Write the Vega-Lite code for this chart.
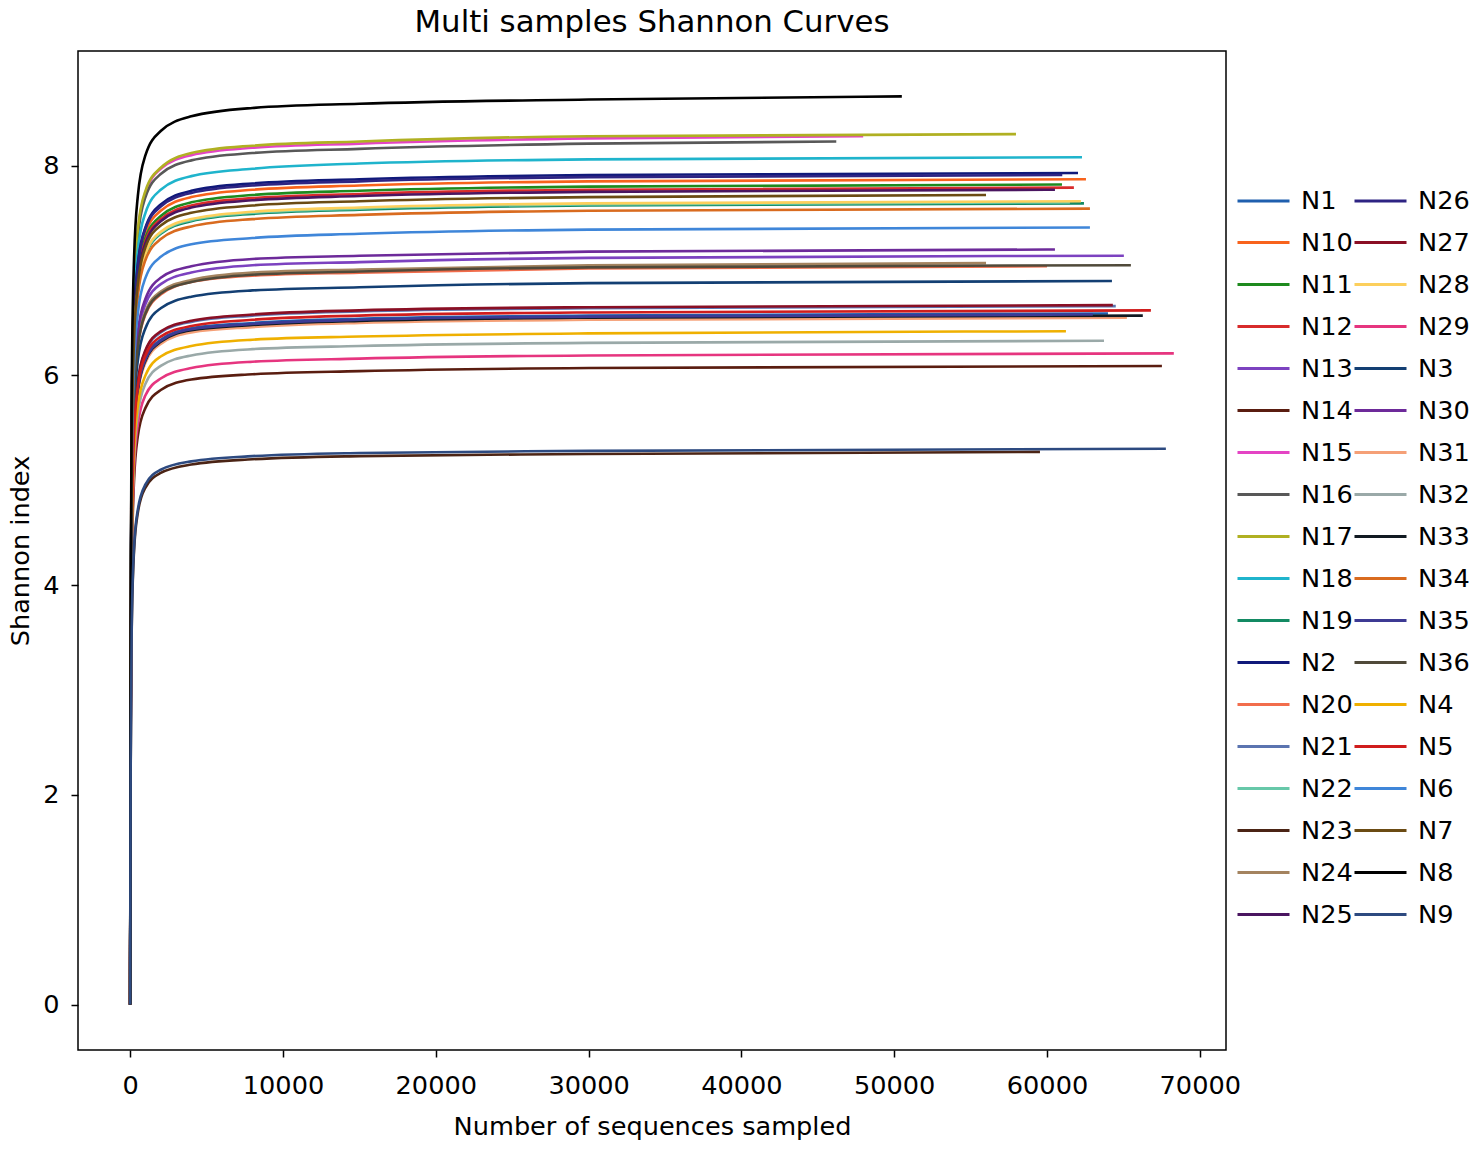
{
  "$schema": "https://vega.github.io/schema/vega-lite/v6.json",
  "title": {"text": "Multi samples Shannon Curves", "fontSize": 30.8, "fontWeight": "normal", "font": "DejaVu Sans", "color": "black", "offset": 12, "anchor": "middle"},
  "width": 1148,
  "height": 999,
  "autosize": {"type": "none"},
  "padding": {"left": 78, "top": 51, "right": 251, "bottom": 101},
  "background": "white",
  "data": {"values": [
    {"s":"N1","x":0,"y":0},{"s":"N1","x":30,"y":2.77},{"s":"N1","x":100,"y":4.48},{"s":"N1","x":250,"y":5.40},{"s":"N1","x":500,"y":5.87},{"s":"N1","x":1000,"y":6.16},{"s":"N1","x":2000,"y":6.34},{"s":"N1","x":4000,"y":6.45},{"s":"N1","x":8000,"y":6.50},{"s":"N1","x":15000,"y":6.54},{"s":"N1","x":30000,"y":6.57},{"s":"N1","x":63990,"y":6.59},
    {"s":"N10","x":0,"y":0},{"s":"N10","x":30,"y":3.31},{"s":"N10","x":100,"y":5.35},{"s":"N10","x":250,"y":6.45},{"s":"N10","x":500,"y":7.00},{"s":"N10","x":1000,"y":7.36},{"s":"N10","x":2000,"y":7.57},{"s":"N10","x":4000,"y":7.70},{"s":"N10","x":8000,"y":7.77},{"s":"N10","x":15000,"y":7.81},{"s":"N10","x":30000,"y":7.85},{"s":"N10","x":62550,"y":7.87},
    {"s":"N11","x":0,"y":0},{"s":"N11","x":30,"y":3.28},{"s":"N11","x":100,"y":5.32},{"s":"N11","x":250,"y":6.41},{"s":"N11","x":500,"y":6.96},{"s":"N11","x":1000,"y":7.31},{"s":"N11","x":2000,"y":7.52},{"s":"N11","x":4000,"y":7.65},{"s":"N11","x":8000,"y":7.72},{"s":"N11","x":15000,"y":7.76},{"s":"N11","x":30000,"y":7.80},{"s":"N11","x":60980,"y":7.82},
    {"s":"N12","x":0,"y":0},{"s":"N12","x":30,"y":3.27},{"s":"N12","x":100,"y":5.30},{"s":"N12","x":250,"y":6.39},{"s":"N12","x":500,"y":6.93},{"s":"N12","x":1000,"y":7.28},{"s":"N12","x":2000,"y":7.49},{"s":"N12","x":4000,"y":7.62},{"s":"N12","x":8000,"y":7.69},{"s":"N12","x":15000,"y":7.73},{"s":"N12","x":30000,"y":7.77},{"s":"N12","x":61760,"y":7.79},
    {"s":"N13","x":0,"y":0},{"s":"N13","x":30,"y":3.00},{"s":"N13","x":100,"y":4.86},{"s":"N13","x":250,"y":5.85},{"s":"N13","x":500,"y":6.35},{"s":"N13","x":1000,"y":6.68},{"s":"N13","x":2000,"y":6.87},{"s":"N13","x":4000,"y":6.98},{"s":"N13","x":8000,"y":7.05},{"s":"N13","x":15000,"y":7.08},{"s":"N13","x":30000,"y":7.12},{"s":"N13","x":65030,"y":7.14},
    {"s":"N14","x":0,"y":0},{"s":"N14","x":30,"y":2.56},{"s":"N14","x":100,"y":4.14},{"s":"N14","x":250,"y":4.99},{"s":"N14","x":500,"y":5.42},{"s":"N14","x":1000,"y":5.69},{"s":"N14","x":2000,"y":5.86},{"s":"N14","x":4000,"y":5.96},{"s":"N14","x":8000,"y":6.01},{"s":"N14","x":15000,"y":6.04},{"s":"N14","x":30000,"y":6.07},{"s":"N14","x":67520,"y":6.09},
    {"s":"N15","x":0,"y":0},{"s":"N15","x":30,"y":3.48},{"s":"N15","x":100,"y":5.63},{"s":"N15","x":250,"y":6.79},{"s":"N15","x":500,"y":7.37},{"s":"N15","x":1000,"y":7.74},{"s":"N15","x":2000,"y":7.97},{"s":"N15","x":4000,"y":8.10},{"s":"N15","x":8000,"y":8.17},{"s":"N15","x":15000,"y":8.21},{"s":"N15","x":30000,"y":8.26},{"s":"N15","x":47970,"y":8.28},
    {"s":"N16","x":0,"y":0},{"s":"N16","x":30,"y":3.46},{"s":"N16","x":100,"y":5.60},{"s":"N16","x":250,"y":6.75},{"s":"N16","x":500,"y":7.32},{"s":"N16","x":1000,"y":7.70},{"s":"N16","x":2000,"y":7.92},{"s":"N16","x":4000,"y":8.05},{"s":"N16","x":8000,"y":8.12},{"s":"N16","x":15000,"y":8.16},{"s":"N16","x":30000,"y":8.21},{"s":"N16","x":46210,"y":8.23},
    {"s":"N17","x":0,"y":0},{"s":"N17","x":30,"y":3.49},{"s":"N17","x":100,"y":5.64},{"s":"N17","x":250,"y":6.81},{"s":"N17","x":500,"y":7.39},{"s":"N17","x":1000,"y":7.76},{"s":"N17","x":2000,"y":7.98},{"s":"N17","x":4000,"y":8.12},{"s":"N17","x":8000,"y":8.19},{"s":"N17","x":15000,"y":8.23},{"s":"N17","x":30000,"y":8.28},{"s":"N17","x":57970,"y":8.30},
    {"s":"N18","x":0,"y":0},{"s":"N18","x":30,"y":3.39},{"s":"N18","x":100,"y":5.49},{"s":"N18","x":250,"y":6.63},{"s":"N18","x":500,"y":7.19},{"s":"N18","x":1000,"y":7.55},{"s":"N18","x":2000,"y":7.77},{"s":"N18","x":4000,"y":7.90},{"s":"N18","x":8000,"y":7.97},{"s":"N18","x":15000,"y":8.02},{"s":"N18","x":30000,"y":8.06},{"s":"N18","x":62290,"y":8.08},
    {"s":"N19","x":0,"y":0},{"s":"N19","x":30,"y":3.21},{"s":"N19","x":100,"y":5.20},{"s":"N19","x":250,"y":6.26},{"s":"N19","x":500,"y":6.80},{"s":"N19","x":1000,"y":7.14},{"s":"N19","x":2000,"y":7.35},{"s":"N19","x":4000,"y":7.47},{"s":"N19","x":8000,"y":7.54},{"s":"N19","x":15000,"y":7.58},{"s":"N19","x":30000,"y":7.62},{"s":"N19","x":62420,"y":7.64},
    {"s":"N2","x":0,"y":0},{"s":"N2","x":30,"y":3.33},{"s":"N2","x":100,"y":5.39},{"s":"N2","x":250,"y":6.50},{"s":"N2","x":500,"y":7.06},{"s":"N2","x":1000,"y":7.41},{"s":"N2","x":2000,"y":7.63},{"s":"N2","x":4000,"y":7.76},{"s":"N2","x":8000,"y":7.83},{"s":"N2","x":15000,"y":7.87},{"s":"N2","x":30000,"y":7.91},{"s":"N2","x":62030,"y":7.93},
    {"s":"N20","x":0,"y":0},{"s":"N20","x":30,"y":2.96},{"s":"N20","x":100,"y":4.79},{"s":"N20","x":250,"y":5.77},{"s":"N20","x":500,"y":6.27},{"s":"N20","x":1000,"y":6.58},{"s":"N20","x":2000,"y":6.77},{"s":"N20","x":4000,"y":6.89},{"s":"N20","x":8000,"y":6.95},{"s":"N20","x":15000,"y":6.98},{"s":"N20","x":30000,"y":7.02},{"s":"N20","x":60000,"y":7.04},
    {"s":"N21","x":0,"y":0},{"s":"N21","x":30,"y":2.80},{"s":"N21","x":100,"y":4.53},{"s":"N21","x":250,"y":5.46},{"s":"N21","x":500,"y":5.93},{"s":"N21","x":1000,"y":6.23},{"s":"N21","x":2000,"y":6.41},{"s":"N21","x":4000,"y":6.51},{"s":"N21","x":8000,"y":6.57},{"s":"N21","x":15000,"y":6.61},{"s":"N21","x":30000,"y":6.64},{"s":"N21","x":64500,"y":6.66},
    {"s":"N22","x":0,"y":0},{"s":"N22","x":30,"y":3.21},{"s":"N22","x":100,"y":5.20},{"s":"N22","x":250,"y":6.27},{"s":"N22","x":500,"y":6.81},{"s":"N22","x":1000,"y":7.15},{"s":"N22","x":2000,"y":7.36},{"s":"N22","x":4000,"y":7.48},{"s":"N22","x":8000,"y":7.55},{"s":"N22","x":15000,"y":7.59},{"s":"N22","x":30000,"y":7.63},{"s":"N22","x":61500,"y":7.65},
    {"s":"N23","x":0,"y":0},{"s":"N23","x":30,"y":2.21},{"s":"N23","x":100,"y":3.58},{"s":"N23","x":250,"y":4.32},{"s":"N23","x":500,"y":4.69},{"s":"N23","x":1000,"y":4.93},{"s":"N23","x":2000,"y":5.07},{"s":"N23","x":4000,"y":5.15},{"s":"N23","x":8000,"y":5.20},{"s":"N23","x":15000,"y":5.23},{"s":"N23","x":30000,"y":5.25},{"s":"N23","x":59540,"y":5.27},
    {"s":"N24","x":0,"y":0},{"s":"N24","x":30,"y":2.97},{"s":"N24","x":100,"y":4.81},{"s":"N24","x":250,"y":5.80},{"s":"N24","x":500,"y":6.29},{"s":"N24","x":1000,"y":6.61},{"s":"N24","x":2000,"y":6.80},{"s":"N24","x":4000,"y":6.91},{"s":"N24","x":8000,"y":6.98},{"s":"N24","x":15000,"y":7.01},{"s":"N24","x":30000,"y":7.05},{"s":"N24","x":56010,"y":7.07},
    {"s":"N25","x":0,"y":0},{"s":"N25","x":30,"y":3.26},{"s":"N25","x":100,"y":5.28},{"s":"N25","x":250,"y":6.37},{"s":"N25","x":500,"y":6.92},{"s":"N25","x":1000,"y":7.26},{"s":"N25","x":2000,"y":7.47},{"s":"N25","x":4000,"y":7.60},{"s":"N25","x":8000,"y":7.67},{"s":"N25","x":15000,"y":7.71},{"s":"N25","x":30000,"y":7.75},{"s":"N25","x":60520,"y":7.77},
    {"s":"N26","x":0,"y":0},{"s":"N26","x":30,"y":3.32},{"s":"N26","x":100,"y":5.38},{"s":"N26","x":250,"y":6.49},{"s":"N26","x":500,"y":7.04},{"s":"N26","x":1000,"y":7.40},{"s":"N26","x":2000,"y":7.61},{"s":"N26","x":4000,"y":7.74},{"s":"N26","x":8000,"y":7.81},{"s":"N26","x":15000,"y":7.85},{"s":"N26","x":30000,"y":7.89},{"s":"N26","x":61000,"y":7.91},
    {"s":"N27","x":0,"y":0},{"s":"N27","x":30,"y":2.80},{"s":"N27","x":100,"y":4.54},{"s":"N27","x":250,"y":5.47},{"s":"N27","x":500,"y":5.94},{"s":"N27","x":1000,"y":6.24},{"s":"N27","x":2000,"y":6.42},{"s":"N27","x":4000,"y":6.52},{"s":"N27","x":8000,"y":6.58},{"s":"N27","x":15000,"y":6.62},{"s":"N27","x":30000,"y":6.65},{"s":"N27","x":64310,"y":6.67},
    {"s":"N28","x":0,"y":0},{"s":"N28","x":30,"y":3.22},{"s":"N28","x":100,"y":5.21},{"s":"N28","x":250,"y":6.28},{"s":"N28","x":500,"y":6.82},{"s":"N28","x":1000,"y":7.16},{"s":"N28","x":2000,"y":7.37},{"s":"N28","x":4000,"y":7.49},{"s":"N28","x":8000,"y":7.56},{"s":"N28","x":15000,"y":7.60},{"s":"N28","x":30000,"y":7.64},{"s":"N28","x":62220,"y":7.66},
    {"s":"N29","x":0,"y":0},{"s":"N29","x":30,"y":2.61},{"s":"N29","x":100,"y":4.22},{"s":"N29","x":250,"y":5.09},{"s":"N29","x":500,"y":5.53},{"s":"N29","x":1000,"y":5.81},{"s":"N29","x":2000,"y":5.97},{"s":"N29","x":4000,"y":6.07},{"s":"N29","x":8000,"y":6.13},{"s":"N29","x":15000,"y":6.16},{"s":"N29","x":30000,"y":6.19},{"s":"N29","x":68300,"y":6.21},
    {"s":"N3","x":0,"y":0},{"s":"N3","x":30,"y":2.90},{"s":"N3","x":100,"y":4.69},{"s":"N3","x":250,"y":5.66},{"s":"N3","x":500,"y":6.14},{"s":"N3","x":1000,"y":6.45},{"s":"N3","x":2000,"y":6.64},{"s":"N3","x":4000,"y":6.75},{"s":"N3","x":8000,"y":6.81},{"s":"N3","x":15000,"y":6.84},{"s":"N3","x":30000,"y":6.88},{"s":"N3","x":64250,"y":6.90},
    {"s":"N30","x":0,"y":0},{"s":"N30","x":30,"y":3.02},{"s":"N30","x":100,"y":4.90},{"s":"N30","x":250,"y":5.90},{"s":"N30","x":500,"y":6.41},{"s":"N30","x":1000,"y":6.73},{"s":"N30","x":2000,"y":6.93},{"s":"N30","x":4000,"y":7.04},{"s":"N30","x":8000,"y":7.11},{"s":"N30","x":15000,"y":7.14},{"s":"N30","x":30000,"y":7.18},{"s":"N30","x":60520,"y":7.20},
    {"s":"N31","x":0,"y":0},{"s":"N31","x":30,"y":2.75},{"s":"N31","x":100,"y":4.45},{"s":"N31","x":250,"y":5.37},{"s":"N31","x":500,"y":5.83},{"s":"N31","x":1000,"y":6.12},{"s":"N31","x":2000,"y":6.30},{"s":"N31","x":4000,"y":6.41},{"s":"N31","x":8000,"y":6.46},{"s":"N31","x":15000,"y":6.50},{"s":"N31","x":30000,"y":6.53},{"s":"N31","x":65230,"y":6.55},
    {"s":"N32","x":0,"y":0},{"s":"N32","x":30,"y":2.66},{"s":"N32","x":100,"y":4.30},{"s":"N32","x":250,"y":5.19},{"s":"N32","x":500,"y":5.63},{"s":"N32","x":1000,"y":5.92},{"s":"N32","x":2000,"y":6.09},{"s":"N32","x":4000,"y":6.19},{"s":"N32","x":8000,"y":6.25},{"s":"N32","x":15000,"y":6.28},{"s":"N32","x":30000,"y":6.31},{"s":"N32","x":63730,"y":6.33},
    {"s":"N33","x":0,"y":0},{"s":"N33","x":30,"y":2.76},{"s":"N33","x":100,"y":4.47},{"s":"N33","x":250,"y":5.39},{"s":"N33","x":500,"y":5.85},{"s":"N33","x":1000,"y":6.14},{"s":"N33","x":2000,"y":6.32},{"s":"N33","x":4000,"y":6.43},{"s":"N33","x":8000,"y":6.48},{"s":"N33","x":15000,"y":6.52},{"s":"N33","x":30000,"y":6.55},{"s":"N33","x":66270,"y":6.57},
    {"s":"N34","x":0,"y":0},{"s":"N34","x":30,"y":3.19},{"s":"N34","x":100,"y":5.16},{"s":"N34","x":250,"y":6.22},{"s":"N34","x":500,"y":6.76},{"s":"N34","x":1000,"y":7.10},{"s":"N34","x":2000,"y":7.30},{"s":"N34","x":4000,"y":7.42},{"s":"N34","x":8000,"y":7.49},{"s":"N34","x":15000,"y":7.53},{"s":"N34","x":30000,"y":7.57},{"s":"N34","x":62810,"y":7.59},
    {"s":"N35","x":0,"y":0},{"s":"N35","x":30,"y":2.76},{"s":"N35","x":100,"y":4.47},{"s":"N35","x":250,"y":5.40},{"s":"N35","x":500,"y":5.86},{"s":"N35","x":1000,"y":6.15},{"s":"N35","x":2000,"y":6.33},{"s":"N35","x":4000,"y":6.44},{"s":"N35","x":8000,"y":6.49},{"s":"N35","x":15000,"y":6.53},{"s":"N35","x":30000,"y":6.56},{"s":"N35","x":63000,"y":6.58},
    {"s":"N36","x":0,"y":0},{"s":"N36","x":30,"y":2.96},{"s":"N36","x":100,"y":4.79},{"s":"N36","x":250,"y":5.78},{"s":"N36","x":500,"y":6.27},{"s":"N36","x":1000,"y":6.59},{"s":"N36","x":2000,"y":6.78},{"s":"N36","x":4000,"y":6.89},{"s":"N36","x":8000,"y":6.96},{"s":"N36","x":15000,"y":6.99},{"s":"N36","x":30000,"y":7.03},{"s":"N36","x":65490,"y":7.05},
    {"s":"N4","x":0,"y":0},{"s":"N4","x":30,"y":2.70},{"s":"N4","x":100,"y":4.37},{"s":"N4","x":250,"y":5.26},{"s":"N4","x":500,"y":5.71},{"s":"N4","x":1000,"y":6.00},{"s":"N4","x":2000,"y":6.18},{"s":"N4","x":4000,"y":6.28},{"s":"N4","x":8000,"y":6.34},{"s":"N4","x":15000,"y":6.37},{"s":"N4","x":30000,"y":6.40},{"s":"N4","x":61240,"y":6.42},
    {"s":"N5","x":0,"y":0},{"s":"N5","x":30,"y":2.78},{"s":"N5","x":100,"y":4.50},{"s":"N5","x":250,"y":5.43},{"s":"N5","x":500,"y":5.89},{"s":"N5","x":1000,"y":6.19},{"s":"N5","x":2000,"y":6.37},{"s":"N5","x":4000,"y":6.47},{"s":"N5","x":8000,"y":6.53},{"s":"N5","x":15000,"y":6.57},{"s":"N5","x":30000,"y":6.60},{"s":"N5","x":66800,"y":6.62},
    {"s":"N6","x":0,"y":0},{"s":"N6","x":30,"y":3.11},{"s":"N6","x":100,"y":5.04},{"s":"N6","x":250,"y":6.08},{"s":"N6","x":500,"y":6.59},{"s":"N6","x":1000,"y":6.93},{"s":"N6","x":2000,"y":7.13},{"s":"N6","x":4000,"y":7.25},{"s":"N6","x":8000,"y":7.31},{"s":"N6","x":15000,"y":7.35},{"s":"N6","x":30000,"y":7.39},{"s":"N6","x":62810,"y":7.41},
    {"s":"N7","x":0,"y":0},{"s":"N7","x":30,"y":3.24},{"s":"N7","x":100,"y":5.25},{"s":"N7","x":250,"y":6.33},{"s":"N7","x":500,"y":6.87},{"s":"N7","x":1000,"y":7.22},{"s":"N7","x":2000,"y":7.43},{"s":"N7","x":4000,"y":7.55},{"s":"N7","x":8000,"y":7.62},{"s":"N7","x":15000,"y":7.66},{"s":"N7","x":30000,"y":7.70},{"s":"N7","x":56010,"y":7.72},
    {"s":"N8","x":0,"y":0},{"s":"N8","x":30,"y":3.64},{"s":"N8","x":100,"y":5.89},{"s":"N8","x":250,"y":7.10},{"s":"N8","x":500,"y":7.71},{"s":"N8","x":1000,"y":8.10},{"s":"N8","x":2000,"y":8.33},{"s":"N8","x":4000,"y":8.47},{"s":"N8","x":8000,"y":8.55},{"s":"N8","x":15000,"y":8.59},{"s":"N8","x":30000,"y":8.63},{"s":"N8","x":50500,"y":8.66},
    {"s":"N9","x":0,"y":0},{"s":"N9","x":30,"y":2.23},{"s":"N9","x":100,"y":3.60},{"s":"N9","x":250,"y":4.35},{"s":"N9","x":500,"y":4.72},{"s":"N9","x":1000,"y":4.96},{"s":"N9","x":2000,"y":5.10},{"s":"N9","x":4000,"y":5.18},{"s":"N9","x":8000,"y":5.23},{"s":"N9","x":15000,"y":5.26},{"s":"N9","x":30000,"y":5.28},{"s":"N9","x":67780,"y":5.30}
  ]},
  "mark": {"type": "line", "interpolate": "monotone", "strokeWidth": 2.6},
  "encoding": {
    "x": {"field": "x", "type": "quantitative",
      "scale": {"domain": [-3415, 71715], "nice": false, "zero": false},
      "axis": {"title": "Number of sequences sampled", "values": [0,10000,20000,30000,40000,50000,60000,70000], "format": "d",
        "grid": false, "domain": false, "tickColor": "black", "tickWidth": 1.5, "tickSize": 7,
        "labelFont": "DejaVu Sans", "labelFontSize": 25.6, "labelColor": "black", "labelPadding": 16,
        "titleFont": "DejaVu Sans", "titleFontSize": 25.6, "titleFontWeight": "normal", "titleColor": "black", "titlePadding": 16}},
    "y": {"field": "y", "type": "quantitative",
      "scale": {"domain": [-0.433, 9.093], "nice": false, "zero": false},
      "axis": {"title": "Shannon index", "values": [0,2,4,6,8],
        "grid": false, "domain": false, "tickColor": "black", "tickWidth": 1.5, "tickSize": 7,
        "labelFont": "DejaVu Sans", "labelFontSize": 25.6, "labelColor": "black", "labelPadding": 12,
        "titleFont": "DejaVu Sans", "titleFontSize": 25.6, "titleFontWeight": "normal", "titleColor": "black", "titlePadding": 9}},
    "color": {"field": "s", "type": "nominal",
      "scale": {
        "domain": ["N1","N10","N11","N12","N13","N14","N15","N16","N17","N18","N19","N2","N20","N21","N22","N23","N24","N25","N26","N27","N28","N29","N3","N30","N31","N32","N33","N34","N35","N36","N4","N5","N6","N7","N8","N9"],
        "range": ["#1f5fae","#f8631c","#1e8a1e","#d82b2b","#7c42c0","#5a1d10","#e444c4","#585858","#b0b022","#1fb4cc","#138a63","#10197a","#f26d4c","#5b74b0","#67c8a9","#4b2415","#a4835f","#4a1560","#2e2483","#8a0f24","#fccf5c","#e6357f","#133f73","#6d2a9a","#f5a077","#9aa9a8","#111a22","#d96b1f","#3d3a94","#504a3a","#efb000","#d01d1d","#3f86d9","#6b4b13","#000000","#2d4a80"]
      },
      "legend": {"title": null, "orient": "none", "legendX": 1158, "legendY": 122, "columns": 2, "symbolLimit": 40,
        "symbolType": "stroke", "symbolSize": 2704, "symbolStrokeWidth": 3, "rowPadding": -16, "columnPadding": -6,
        "labelFont": "DejaVu Sans", "labelFontSize": 25.6, "labelColor": "black", "labelOffset": 10, "labelLimit": 200}}
  },
  "config": {"view": {"stroke": "black", "strokeWidth": 1.5}}
}
